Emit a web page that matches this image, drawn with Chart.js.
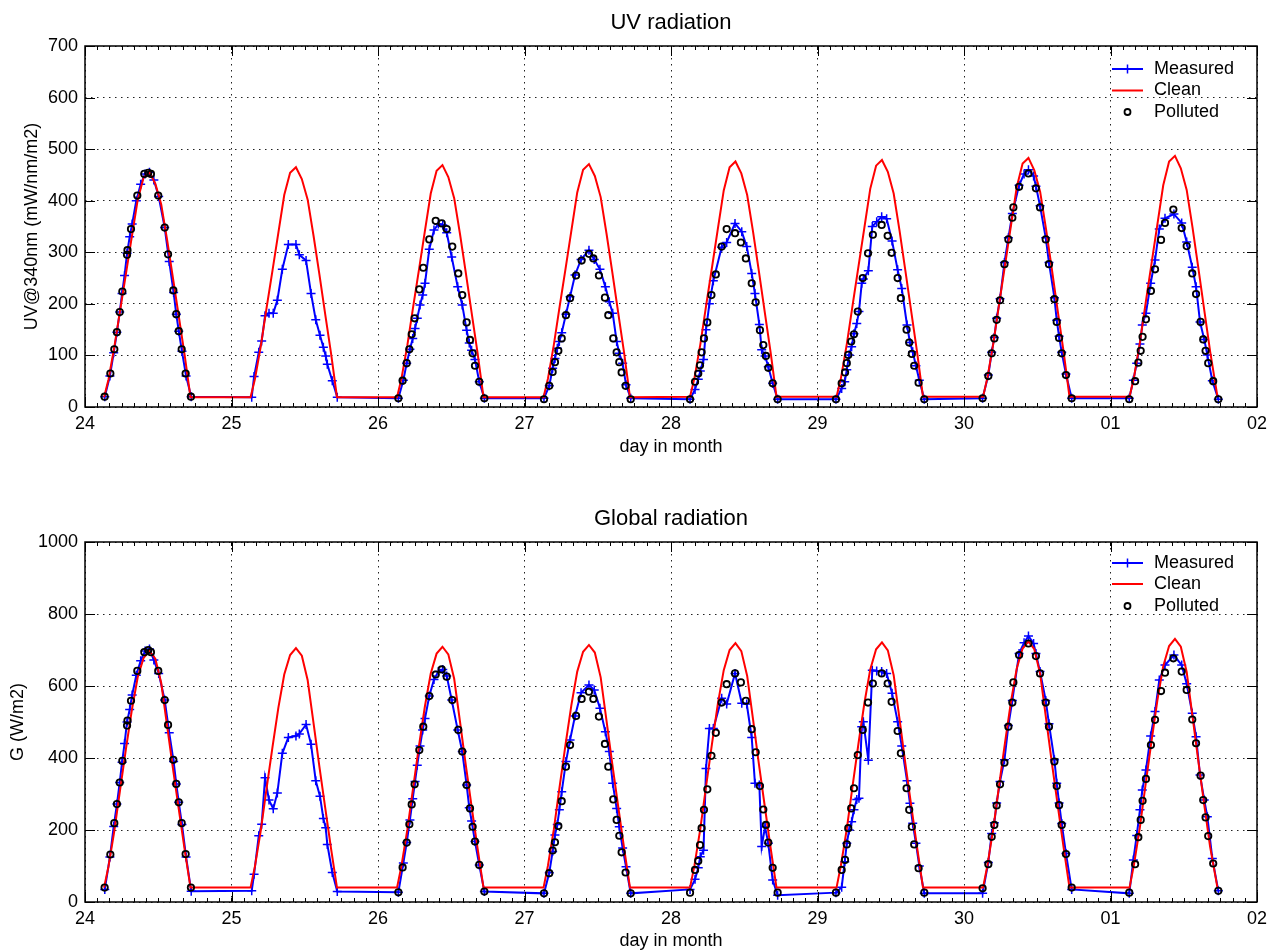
<!DOCTYPE html>
<html>
<head>
<meta charset="utf-8">
<title>UV and global radiation</title>
<script src="https://cdn.jsdelivr.net/npm/chart.js@4.4.0/dist/chart.umd.min.js"></script>
<style>
  html, body { margin: 0; padding: 0; background: #fff; }
  .panel { position: absolute; left: 0; width: 1268px; height: 476px; }
</style>
</head>
<body>
<div class="panel" style="top:0"><canvas id="uvChart"></canvas></div>
<div class="panel" style="top:476px"><canvas id="gChart"></canvas></div>
<script>
// x axis: day of month (fractional), 24 .. 32 (= 02 of next month)
const tickLabels = ['24', '25', '26', '27', '28', '29', '30', '01', '02'];
const seriesNames = ['Measured', 'Clean', 'Polluted'];

// measured samples, one line per day
const measuredTime = [
  24.135, 24.17, 24.196, 24.218, 24.237, 24.253, 24.27, 24.287, 24.305, 24.322, 24.35, 24.38, 24.41, 24.44, 24.47, 24.503, 24.544, 24.575, 24.605, 24.623, 24.64, 24.662, 24.69, 24.725,
  25.138, 25.154, 25.186, 25.206, 25.229, 25.256, 25.285, 25.313, 25.347, 25.388, 25.44, 25.463, 25.509, 25.543, 25.575, 25.604, 25.627, 25.643, 25.654, 25.688, 25.722,
  26.139, 26.173, 26.196, 26.218, 26.237, 26.253, 26.268, 26.287, 26.305, 26.321, 26.35, 26.382, 26.412, 26.442, 26.469, 26.503, 26.544, 26.575, 26.605, 26.623, 26.639, 26.662, 26.691, 26.726,
  27.133, 27.169, 27.192, 27.208, 27.224, 27.238, 27.254, 27.283, 27.311, 27.345, 27.386, 27.44, 27.476, 27.515, 27.552, 27.579, 27.602, 27.629, 27.647, 27.67, 27.693, 27.725,
  28.13, 28.164, 28.186, 28.2, 28.222, 28.239, 28.262, 28.289, 28.346, 28.38, 28.437, 28.483, 28.517, 28.551, 28.573, 28.603, 28.619, 28.642, 28.664, 28.694, 28.728,
  29.126, 29.165, 29.186, 29.2, 29.216, 29.233, 29.249, 29.268, 29.283, 29.302, 29.313, 29.347, 29.374, 29.404, 29.438, 29.472, 29.509, 29.547, 29.575, 29.611, 29.631, 29.65, 29.672, 29.695, 29.729,
  30.127, 30.166, 30.189, 30.207, 30.223, 30.246, 30.276, 30.303, 30.33, 30.376, 30.41, 30.44, 30.475, 30.491, 30.519, 30.558, 30.58, 30.617, 30.633, 30.649, 30.667, 30.696, 30.735,
  31.128, 31.156, 31.179, 31.201, 31.217, 31.242, 31.274, 31.304, 31.333, 31.372, 31.433, 31.486, 31.52, 31.558, 31.584, 31.611, 31.64, 31.661, 31.695, 31.736
];
const measuredUV = [
  20, 60, 105, 145, 184, 220, 255, 298, 330, 355, 400, 432, 452, 455, 440, 408, 348, 282, 222, 180, 147, 108, 60, 20,
  19, 59, 106, 128, 177, 182, 182, 207, 267, 315, 315, 295, 284, 220, 169, 139, 116, 99, 83, 51, 19,
  17, 52, 85, 112, 133, 152, 172, 198, 217, 240, 306, 343, 355, 353, 338, 291, 233, 198, 149, 124, 110, 92, 49, 17,
  17, 41, 75, 94, 114, 127, 144, 180, 214, 256, 286, 304, 286, 267, 233, 204, 182, 127, 104, 85, 43, 17,
  15, 34, 54, 70, 92, 150, 200, 245, 310, 319, 356, 340, 311, 259, 220, 160, 111, 99, 78, 46, 15,
  15, 36, 49, 72, 101, 117, 142, 162, 185, 240, 248, 264, 350, 359, 369, 365, 322, 266, 230, 159, 125, 107, 80, 52, 15,
  17, 62, 106, 135, 172, 210, 280, 328, 375, 430, 452, 460, 448, 428, 390, 328, 280, 212, 168, 137, 106, 64, 17,
  17, 52, 85, 122, 159, 182, 240, 285, 345, 366, 374, 357, 320, 271, 233, 165, 131, 101, 51, 15
];
const measuredG = [
  35, 125, 210, 272, 332, 388, 440, 500, 535, 575, 630, 670, 697, 703, 672, 635, 561, 470, 390, 328, 277, 215, 125, 30,
  31, 77, 184, 216, 345, 283, 259, 303, 413, 457, 461, 467, 493, 438, 337, 294, 232, 206, 160, 82, 29,
  27, 108, 165, 228, 287, 335, 380, 433, 478, 510, 572, 618, 640, 646, 628, 561, 478, 418, 325, 262, 225, 168, 103, 29,
  24, 81, 140, 186, 215, 256, 306, 390, 450, 517, 581, 603, 589, 538, 473, 418, 330, 260, 209, 150, 98, 24,
  35, 63, 95, 126, 144, 371, 482, 482, 566, 550, 635, 552, 550, 457, 330, 325, 154, 209, 163, 61, 19,
  26, 41, 112, 163, 200, 223, 256, 285, 288, 487, 501, 394, 644, 642, 640, 635, 580, 501, 433, 337, 274, 219, 163, 100, 24,
  24, 110, 190, 220, 275, 335, 395, 490, 560, 690, 720, 739, 718, 690, 640, 560, 495, 395, 330, 275, 218, 135, 35,
  24, 117, 185, 256, 311, 367, 461, 529, 617, 658, 686, 658, 606, 524, 459, 353, 283, 237, 121, 31
];

// clear-sky model
const cleanTime = [
  24.13, 24.16, 24.20, 24.24, 24.28, 24.32, 24.36, 24.40, 24.44, 24.48, 24.52, 24.56, 24.60, 24.64, 24.68, 24.72,
  25.13, 25.16, 25.20, 25.24, 25.28, 25.32, 25.36, 25.40, 25.44, 25.48, 25.52, 25.56, 25.60, 25.64, 25.68, 25.72,
  26.13, 26.16, 26.20, 26.24, 26.28, 26.32, 26.36, 26.40, 26.44, 26.48, 26.52, 26.56, 26.60, 26.64, 26.68, 26.72,
  27.13, 27.16, 27.20, 27.24, 27.28, 27.32, 27.36, 27.40, 27.44, 27.48, 27.52, 27.56, 27.60, 27.64, 27.68, 27.72,
  28.13, 28.16, 28.20, 28.24, 28.28, 28.32, 28.36, 28.40, 28.44, 28.48, 28.52, 28.56, 28.60, 28.64, 28.68, 28.72,
  29.13, 29.16, 29.20, 29.24, 29.28, 29.32, 29.36, 29.40, 29.44, 29.48, 29.52, 29.56, 29.60, 29.64, 29.68, 29.72,
  30.13, 30.16, 30.20, 30.24, 30.28, 30.32, 30.36, 30.40, 30.44, 30.48, 30.52, 30.56, 30.60, 30.64, 30.68, 30.72,
  31.13, 31.16, 31.20, 31.24, 31.28, 31.32, 31.36, 31.40, 31.44, 31.48, 31.52, 31.56, 31.60, 31.64, 31.68, 31.73
];
const cleanUV = [
  19, 53, 116, 188, 259, 331, 402, 445, 455, 433, 393, 325, 251, 176, 101, 19,
  19, 54, 118, 193, 265, 338, 411, 454, 465, 442, 402, 332, 257, 179, 103, 19,
  19, 55, 119, 194, 267, 341, 414, 458, 469, 446, 405, 335, 259, 181, 104, 19,
  19, 55, 120, 195, 268, 342, 416, 460, 471, 448, 407, 336, 260, 182, 105, 19,
  20, 56, 121, 197, 271, 346, 420, 465, 476, 453, 411, 340, 263, 184, 106, 20,
  20, 56, 122, 198, 273, 348, 423, 468, 479, 456, 414, 342, 264, 185, 106, 20,
  20, 57, 123, 200, 275, 351, 426, 472, 483, 459, 417, 345, 267, 186, 107, 20,
  20, 57, 124, 202, 278, 354, 430, 476, 487, 463, 421, 348, 269, 188, 108, 20
];
const cleanG = [
  40, 98, 197, 313, 427, 534, 625, 678, 697, 676, 609, 491, 372, 258, 146, 40,
  40, 99, 199, 317, 431, 540, 632, 686, 705, 684, 616, 497, 376, 261, 147, 40,
  40, 100, 200, 318, 434, 543, 635, 690, 709, 688, 620, 500, 378, 262, 148, 40,
  40, 101, 201, 321, 437, 547, 640, 695, 714, 693, 624, 503, 381, 264, 149, 40,
  40, 101, 203, 323, 440, 551, 644, 700, 719, 697, 628, 507, 383, 266, 150, 40,
  40, 102, 203, 324, 441, 552, 646, 702, 721, 699, 630, 508, 384, 267, 151, 40,
  40, 102, 204, 325, 443, 555, 649, 704, 724, 702, 633, 510, 386, 268, 151, 40,
  40, 103, 206, 328, 447, 560, 655, 711, 731, 709, 639, 515, 390, 270, 153, 40
];

// polluted model (no values on the 25th)
const pollutedTime = [
  24.134, 24.173, 24.2, 24.218, 24.237, 24.255, 24.287, 24.29, 24.314, 24.357, 24.405, 24.432, 24.45, 24.5, 24.544, 24.567, 24.603, 24.623, 24.64, 24.66, 24.687, 24.723,
  26.139, 26.168, 26.196, 26.214, 26.23, 26.25, 26.282, 26.309, 26.35, 26.394, 26.435, 26.469, 26.507, 26.548, 26.575, 26.605, 26.628, 26.646, 26.662, 26.691, 26.726,
  27.133, 27.169, 27.192, 27.208, 27.231, 27.254, 27.283, 27.311, 27.352, 27.39, 27.44, 27.47, 27.508, 27.549, 27.572, 27.606, 27.629, 27.647, 27.663, 27.69, 27.725,
  28.13, 28.164, 28.186, 28.198, 28.209, 28.225, 28.248, 28.276, 28.306, 28.346, 28.38, 28.437, 28.477, 28.511, 28.551, 28.578, 28.607, 28.63, 28.648, 28.664, 28.694, 28.728,
  29.126, 29.165, 29.188, 29.2, 29.21, 29.23, 29.249, 29.275, 29.309, 29.345, 29.378, 29.438, 29.479, 29.506, 29.547, 29.569, 29.608, 29.626, 29.644, 29.66, 29.69, 29.729,
  30.127, 30.166, 30.189, 30.207, 30.223, 30.246, 30.276, 30.303, 30.33, 30.337, 30.376, 30.44, 30.491, 30.519, 30.558, 30.58, 30.617, 30.633, 30.649, 30.667, 30.696, 30.735,
  31.128, 31.168, 31.19, 31.206, 31.219, 31.242, 31.276, 31.304, 31.345, 31.372, 31.429, 31.486, 31.52, 31.558, 31.584, 31.615, 31.633, 31.649, 31.667, 31.701, 31.736
];
const pollutedUV = [
  20, 65, 112, 145, 184, 224, 295, 304, 345, 410, 452, 454, 452, 410, 348, 296, 226, 180, 147, 112, 65, 20,
  17, 51, 85, 112, 141, 172, 228, 270, 325, 361, 356, 345, 311, 259, 217, 164, 130, 104, 80, 49, 17,
  15, 41, 68, 87, 109, 133, 178, 211, 255, 284, 297, 288, 255, 212, 178, 133, 106, 87, 67, 41, 15,
  15, 49, 65, 81, 106, 133, 164, 217, 257, 311, 345, 337, 319, 288, 240, 203, 149, 120, 99, 76, 46, 15,
  15, 46, 67, 85, 101, 127, 141, 185, 250, 298, 334, 353, 332, 299, 250, 211, 150, 125, 103, 80, 47, 15,
  17, 60, 104, 133, 169, 207, 277, 325, 367, 387, 427, 453, 424, 387, 325, 277, 209, 165, 134, 104, 62, 17,
  15, 50, 86, 109, 136, 170, 225, 267, 324, 357, 383, 347, 312, 259, 219, 165, 131, 109, 85, 50, 15
];
const pollutedG = [
  40, 132, 219, 272, 332, 392, 490, 504, 559, 642, 694, 700, 694, 642, 561, 492, 395, 328, 277, 219, 133, 40,
  27, 96, 165, 216, 271, 327, 422, 487, 572, 632, 646, 626, 561, 478, 418, 325, 260, 209, 168, 103, 29,
  24, 80, 143, 166, 211, 280, 376, 436, 517, 564, 584, 564, 515, 439, 376, 285, 228, 184, 138, 82, 24,
  26, 89, 114, 158, 205, 256, 313, 406, 470, 554, 605, 635, 610, 559, 480, 416, 322, 257, 214, 165, 95, 26,
  26, 89, 117, 160, 205, 260, 316, 408, 478, 554, 607, 635, 607, 556, 475, 413, 316, 256, 209, 160, 94, 26,
  38, 105, 181, 214, 268, 327, 387, 487, 554, 610, 686, 718, 683, 635, 554, 487, 390, 322, 269, 214, 133, 40,
  26, 105, 180, 228, 281, 342, 436, 506, 586, 637, 677, 640, 589, 507, 441, 351, 283, 235, 183, 107, 31
];

Chart.defaults.font.family = '"Liberation Sans", Arial, Helvetica, sans-serif';
Chart.defaults.font.size = 18;
Chart.defaults.color = '#000';
Chart.defaults.animation = false;

function pairs(xs, ys) {
  return xs.map((x, i) => ({ x: x, y: ys[i] }));
}

// matlab-like box: inward ticks, full frame and an unboxed legend in the upper right
const matlabFrame = {
  id: 'matlabFrame',
  afterDraw(chart, args, opts) {
    const { ctx, chartArea: a, scales } = chart;
    const x = scales.x, y = scales.y;
    const line = (x1, y1, x2, y2) => { ctx.beginPath(); ctx.moveTo(x1, y1); ctx.lineTo(x2, y2); ctx.stroke(); };
    ctx.save();
    ctx.strokeStyle = '#000';
    ctx.lineWidth = 1;
    // minor ticks every two hours
    for (let d = x.min; d < x.max - 1e-6; d += 1 / 12) {
      const px = Math.round(x.getPixelForValue(d)) + 0.5;
      line(px, a.bottom, px, a.bottom - 4);
      line(px, a.top, px, a.top + 4);
    }
    x.ticks.forEach(t => {
      const px = Math.round(x.getPixelForValue(t.value)) + 0.5;
      line(px, a.bottom, px, a.bottom - 10);
      line(px, a.top, px, a.top + 10);
    });
    y.ticks.forEach(t => {
      const py = Math.round(y.getPixelForValue(t.value)) + 0.5;
      line(a.left, py, a.left + 10, py);
      line(a.right, py, a.right - 10, py);
    });
    ctx.lineWidth = 1.5;
    ctx.strokeRect(a.left, a.top, a.right - a.left, a.bottom - a.top);

    // legend
    const ds = chart.data.datasets;
    const x0 = a.right - 145, x1 = a.right - 114, xt = a.right - 103;
    ctx.font = '18px "Liberation Sans", Arial, sans-serif';
    ctx.fillStyle = '#000';
    ctx.textBaseline = 'middle';
    ctx.textAlign = 'left';
    ds.forEach((d, i) => {
      const yy = a.top + opts.rows[i];
      const xm = (x0 + x1) / 2;
      if (d.showLine) {
        ctx.strokeStyle = d.borderColor;
        ctx.lineWidth = 2;
        line(x0, yy, x1, yy);
      }
      if (d.pointStyle === 'cross') {
        ctx.strokeStyle = d.pointBorderColor;
        ctx.lineWidth = 1.5;
        line(xm - 4.5, yy, xm + 4.5, yy);
        line(xm, yy - 4.5, xm, yy + 4.5);
      } else if (d.pointStyle === 'circle' && d.pointRadius > 0) {
        ctx.strokeStyle = d.pointBorderColor;
        ctx.lineWidth = 1.8;
        ctx.beginPath();
        ctx.arc(xm, yy, 3, 0, Math.PI * 2);
        ctx.stroke();
      }
      ctx.fillText(d.label, xt, yy);
    });
    ctx.restore();
  }
};

function buildChart(id, cfg) {
  return new Chart(document.getElementById(id), {
    type: 'scatter',
    data: {
      datasets: [
        {
          label: seriesNames[0],
          data: pairs(measuredTime, cfg.measured),
          showLine: true,
          borderColor: '#0000ff',
          borderWidth: 2,
          pointStyle: 'cross',
          pointRadius: 4.5,
          pointBorderWidth: 1.5,
          pointBorderColor: '#0000ff',
          order: 2
        },
        {
          label: seriesNames[1],
          data: pairs(cleanTime, cfg.clean),
          showLine: true,
          borderColor: '#ff0000',
          borderWidth: 2,
          pointRadius: 0,
          order: 1
        },
        {
          label: seriesNames[2],
          data: pairs(pollutedTime, cfg.polluted),
          showLine: false,
          pointStyle: 'circle',
          pointRadius: 3.2,
          pointBorderWidth: 1.8,
          pointBorderColor: '#000',
          pointBackgroundColor: 'rgba(0,0,0,0)',
          order: 0
        }
      ]
    },
    options: {
      responsive: true,
      maintainAspectRatio: false,
      layout: { padding: { left: 0, right: 11, top: 0, bottom: 0 } },
      scales: {
        x: {
          type: 'linear',
          min: 24,
          max: 32,
          afterFit: s => {
            s.height = cfg.xHeight;
            s.paddingLeft = 0;
            s.paddingRight = 0;
          },
          ticks: {
            stepSize: 1,
            autoSkip: false,
            maxRotation: 0,
            padding: 6,
            callback: v => tickLabels[Math.round(v - 24)]
          },
          grid: { drawTicks: false, color: '#222', lineWidth: 1 },
          border: { display: false, dash: [1.5, 4.5] },
          title: { display: true, text: 'day in month', padding: { top: 0, bottom: cfg.xTitlePad } }
        },
        y: {
          min: 0,
          max: cfg.yMax,
          afterFit: s => { s.width = 85; },
          ticks: { stepSize: cfg.yStep, padding: 7, callback: v => String(v) },
          grid: { drawTicks: false, color: '#222', lineWidth: 1 },
          border: { display: false, dash: [1.5, 4.5] },
          title: { display: true, text: cfg.yTitle, padding: { top: cfg.yTitlePad, bottom: 0 } }
        }
      },
      plugins: {
        title: {
          display: true,
          text: cfg.title,
          fullSize: false,
          font: { size: 22, weight: 'normal' },
          color: '#000',
          padding: { top: cfg.titleTop, bottom: cfg.titleBottom }
        },
        legend: { display: false },
        tooltip: { enabled: false },
        matlabFrame: { rows: cfg.legendRows }
      }
    },
    plugins: [matlabFrame]
  });
}

buildChart('uvChart', {
  title: 'UV radiation',
  yTitle: 'UV@340nm (mW/nm/m2)',
  measured: measuredUV, clean: cleanUV, polluted: pollutedUV,
  yMax: 700, yStep: 100,
  titleTop: 9.8, titleBottom: 9.8,
  xHeight: 69, xTitlePad: 18,
  yTitlePad: 21,
  legendRows: [23, 44.5, 66]
});

buildChart('gChart', {
  title: 'Global radiation',
  yTitle: 'G (W/m2)',
  measured: measuredG, clean: cleanG, polluted: pollutedG,
  yMax: 1000, yStep: 200,
  titleTop: 29.8, titleBottom: 9.8,
  xHeight: 50, xTitlePad: 0,
  yTitlePad: 7,
  legendRows: [21, 42, 64]
});
</script>
</body>
</html>
